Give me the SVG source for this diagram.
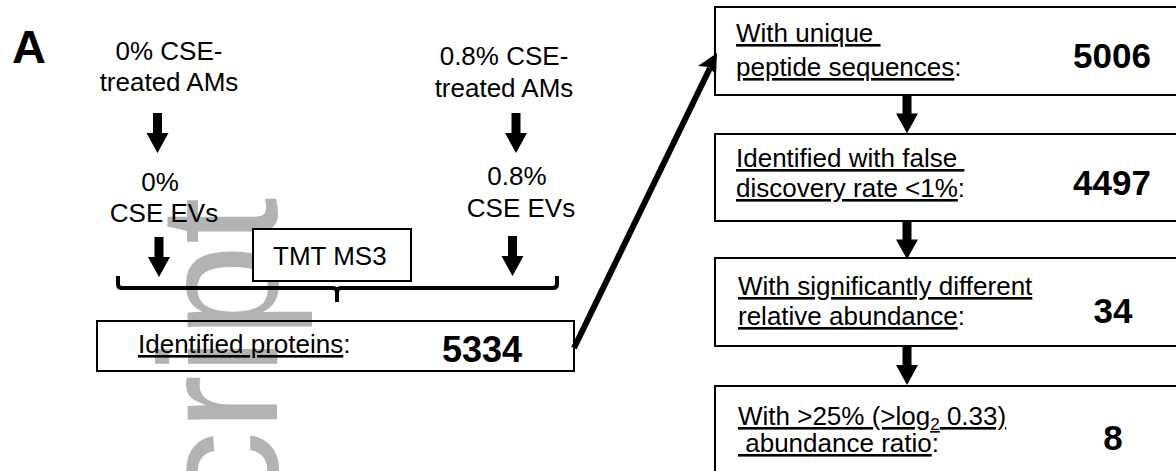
<svg xmlns="http://www.w3.org/2000/svg" width="1176" height="471" viewBox="0 0 1176 471">
  <style>
    text { font-family: "Liberation Sans", Arial, sans-serif; fill: #000; }
    .lbl { font-size: 26px; white-space: pre; }
    .mid { text-anchor: middle; }
    .num { font-size: 35px; font-weight: bold; text-anchor: middle; }
    .u { text-decoration: underline; }
    .box { fill: none; stroke: #000; stroke-width: 2; }
    .boxw { fill: #fff; stroke: #000; stroke-width: 2; }
    .wm { font-size: 168px; fill: #b3b3b3; }
  </style>
  <defs>
    <!-- block arrow pointing down, 40 px long -->
    <path id="down" d="M-4.5,0 H4.5 V20 H11 L0,40 L-11,20 H-4.5 Z" fill="#000"/>
  </defs>

  <!-- background -->
  <rect width="1176" height="471" fill="#fff"/>

  <!-- vertical watermark -->
  <text class="wm" transform="translate(277,515) rotate(-90)">cript</text>

  <!-- panel letter -->
  <text x="12" y="63" style="font-size:47px;font-weight:bold">A</text>

  <g id="src-0">
    <text class="lbl mid" x="169" y="60">0% CSE-</text>
    <text class="lbl mid" x="169" y="91">treated AMs</text>
  </g>
  <g id="src-08">
    <text class="lbl mid" x="504" y="65">0.8% CSE-</text>
    <text class="lbl mid" x="504" y="97">treated AMs</text>
  </g>
  <g id="ev-0">
    <text class="lbl mid" x="160" y="191">0%</text>
    <text class="lbl mid" x="164" y="222">CSE EVs</text>
  </g>
  <g id="ev-08">
    <text class="lbl mid" x="517" y="185">0.8%</text>
    <text class="lbl mid" x="521" y="217">CSE EVs</text>
  </g>

  <g id="tmt">
    <rect class="boxw" x="253" y="229" width="158" height="52"/>
    <text class="lbl" x="273" y="265">TMT MS3</text>
  </g>

  <g id="identified">
    <rect class="box" x="97" y="321" width="477" height="50"/>
    <text class="lbl" x="138" y="353" xml:space="preserve"><tspan class="u">Identified proteins</tspan>:</text>
    <text class="num" x="482" y="362" style="font-size:36px">5334</text>
  </g>

  <g id="unique">
    <rect class="box" x="715" y="7" width="470" height="88"/>
    <text class="lbl" x="736" y="42" xml:space="preserve"><tspan class="u">With unique </tspan></text>
    <text class="lbl" x="736" y="76" xml:space="preserve"><tspan class="u">peptide sequences</tspan>:</text>
    <text class="num" x="1112" y="68">5006</text>
  </g>

  <g id="fdr">
    <rect class="box" x="715" y="134" width="470" height="87"/>
    <text class="lbl" x="736" y="167" xml:space="preserve"><tspan class="u">Identified with false </tspan></text>
    <text class="lbl" x="736" y="197" xml:space="preserve"><tspan class="u">discovery rate &lt;1%</tspan>:</text>
    <text class="num" x="1112" y="195">4497</text>
  </g>

  <g id="significant">
    <rect class="box" x="715" y="258" width="470" height="88"/>
    <text class="lbl" x="738" y="295" xml:space="preserve"><tspan class="u">With significantly different</tspan></text>
    <text class="lbl" x="738" y="325" xml:space="preserve"><tspan class="u">relative abundance</tspan>:</text>
    <text class="num" x="1113" y="323">34</text>
  </g>

  <g id="ratio">
    <rect class="box" x="715" y="386" width="470" height="100"/>
    <text class="lbl" x="738" y="425" xml:space="preserve"><tspan class="u">With &gt;25% (&gt;log</tspan><tspan class="u" style="font-size:17px" dy="5">2</tspan><tspan class="u" dy="-5"> 0.33)</tspan></text>
    <text class="lbl" x="738" y="452" xml:space="preserve"><tspan class="u"> abundance ratio</tspan>:</text>
    <text class="num" x="1113" y="450">8</text>
  </g>

  <g id="connectors">
    <use href="#down" transform="translate(157.5,113)"/>
    <use href="#down" transform="translate(516,113)"/>
    <use href="#down" transform="translate(159,237)"/>
    <use href="#down" transform="translate(512.5,236)"/>
    <!-- bracket joining both samples -->
    <path d="M118,276 V284 Q118,288 122,288 H333 Q337,288 337,292 V302 M337,292 Q337,288 341,288 H553 Q557,288 557,284 V276" fill="none" stroke="#000" stroke-width="4"/>
    <!-- diagonal link to the filter chain -->
    <line x1="574" y1="348" x2="710" y2="68" stroke="#000" stroke-width="6"/>
    <path d="M717,53 L716,75 L709,67 L698,66 Z" fill="#000"/>
    <use href="#down" transform="translate(907,94) scale(1,0.98)"/>
    <use href="#down" transform="translate(907,220) scale(1,0.98)"/>
    <use href="#down" transform="translate(907,345)"/>
  </g>
</svg>
